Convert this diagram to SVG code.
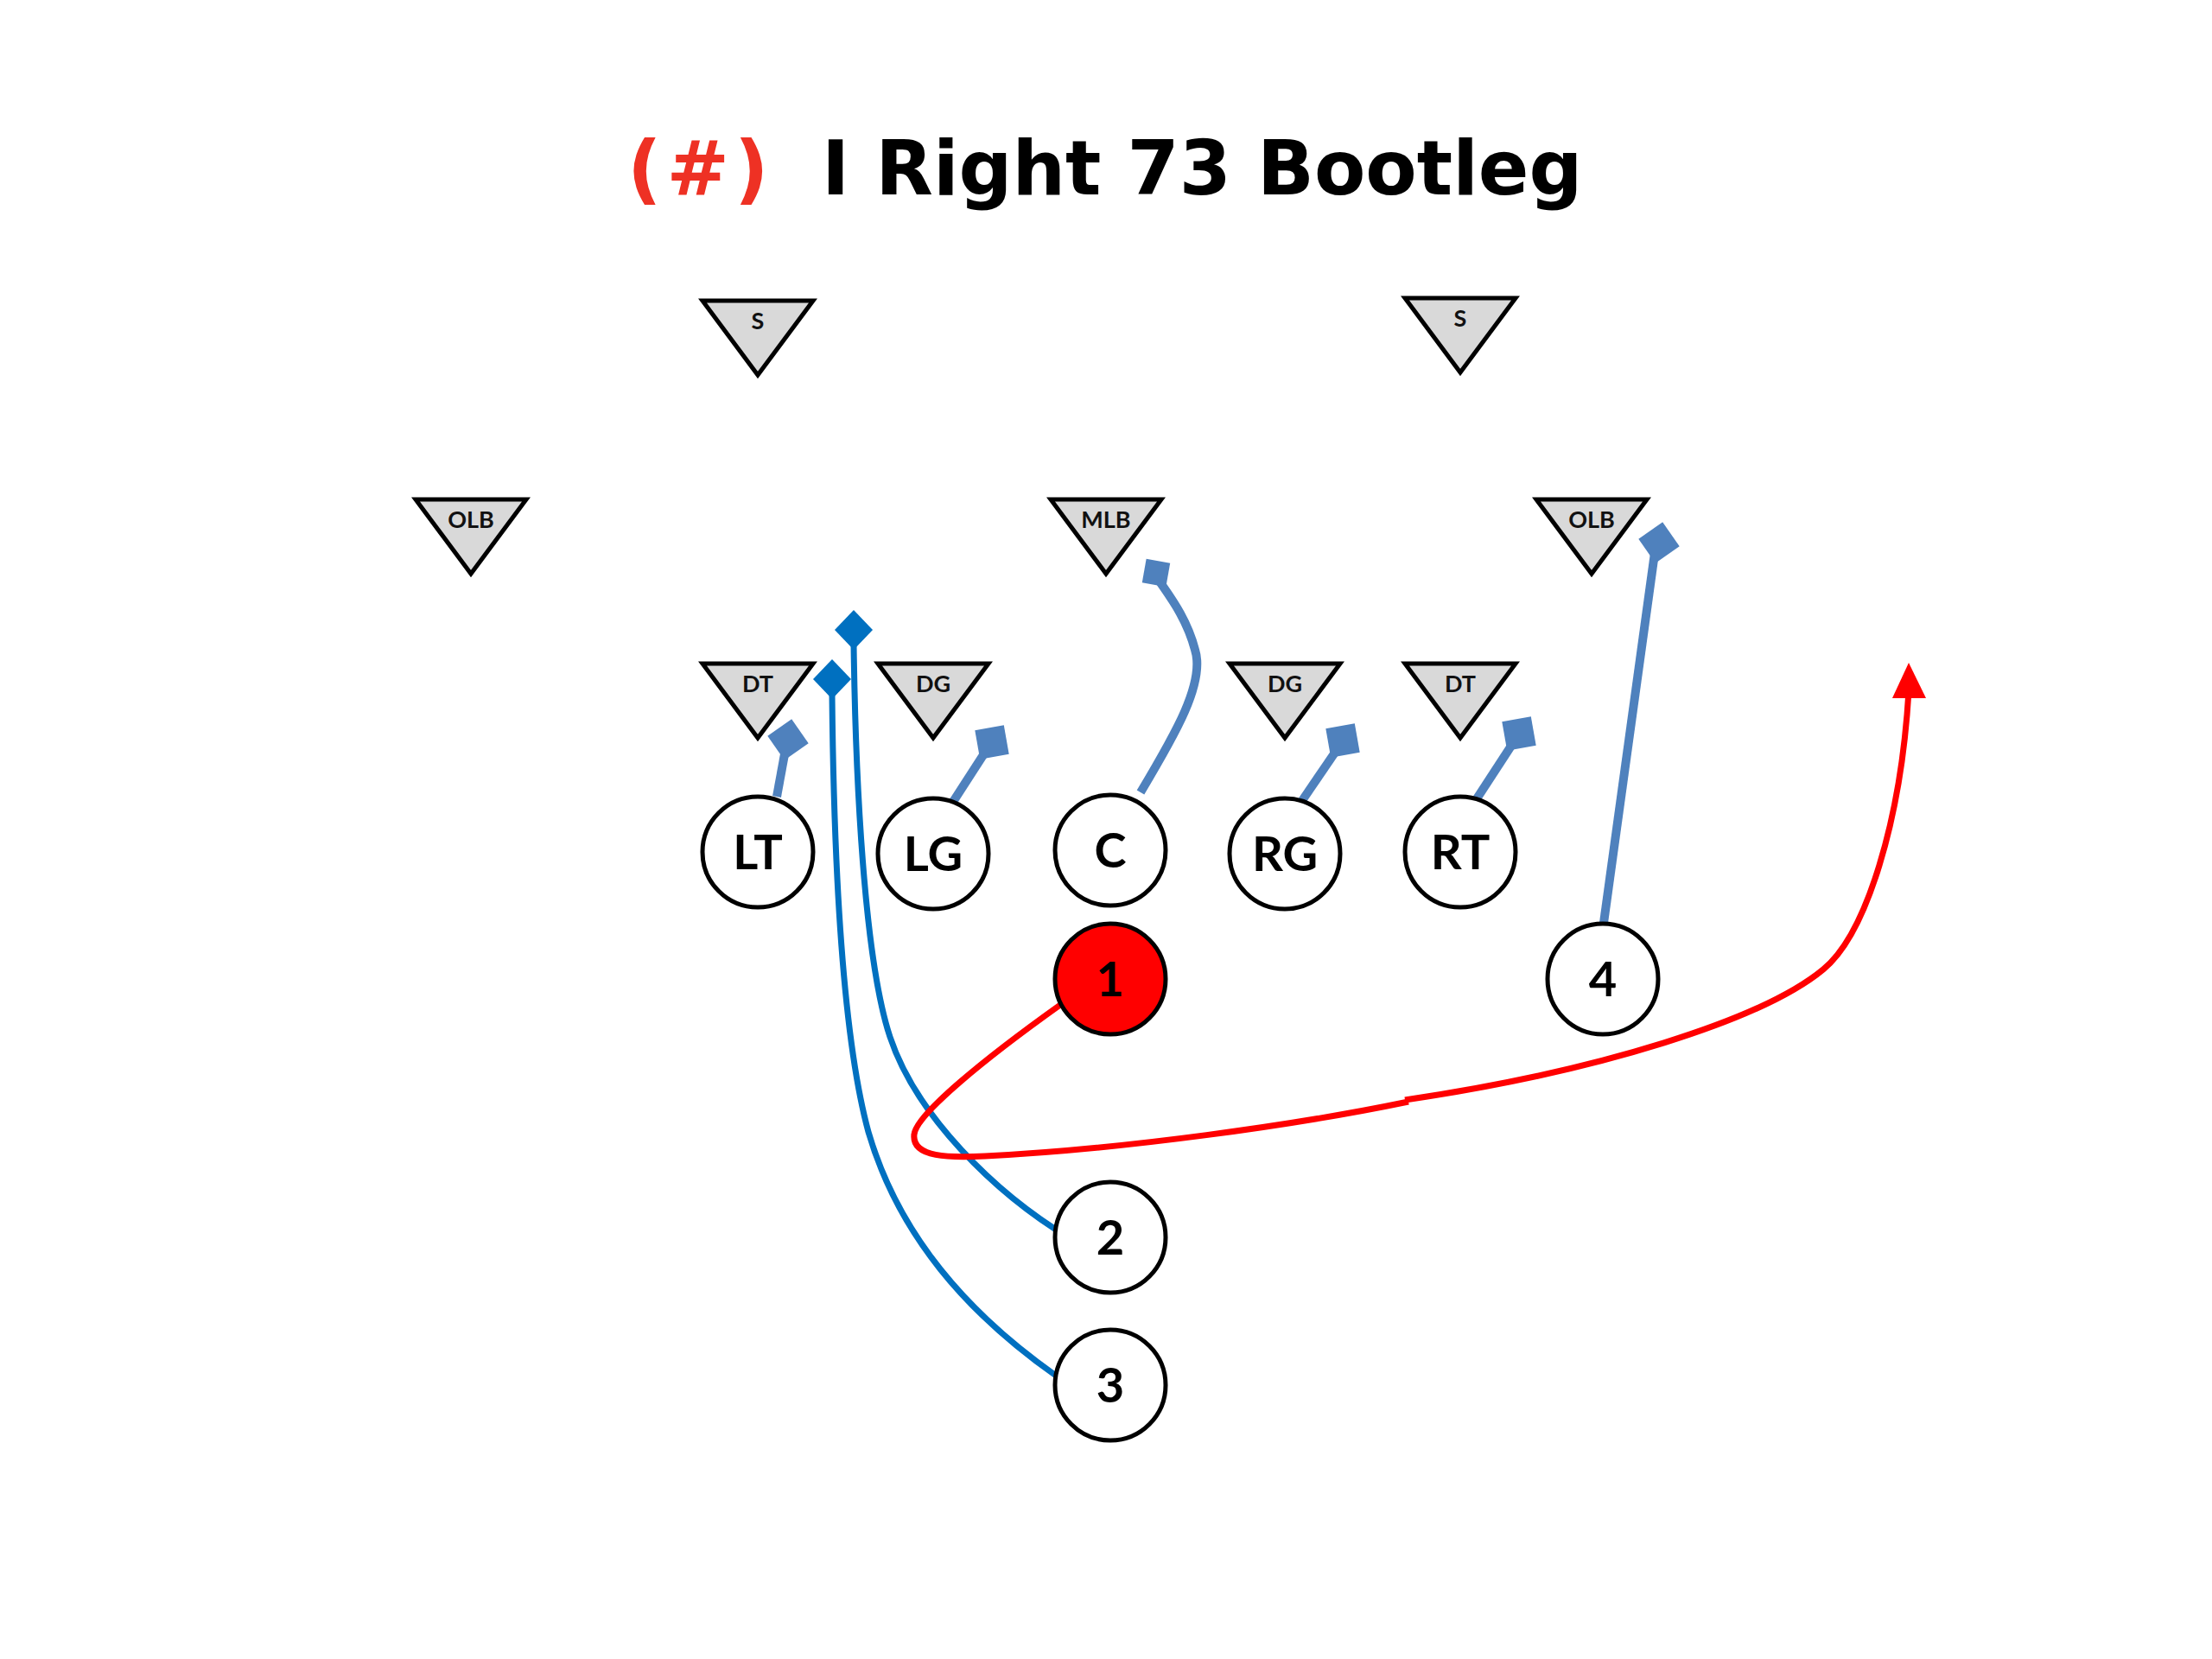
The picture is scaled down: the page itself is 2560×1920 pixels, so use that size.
<svg xmlns="http://www.w3.org/2000/svg" width="2560" height="1920" viewBox="0 0 2560 1920">
<style>
.tri{fill:#D9D9D9;stroke:#000;stroke-width:5;stroke-linejoin:miter}
.tl{font-family:Lato,"Open Sans","Liberation Sans",sans-serif;font-weight:700;font-size:27px;text-anchor:middle;fill:#111}
.pl{fill:#fff;stroke:#000;stroke-width:5}
.cl{font-family:Lato,"Open Sans","Liberation Sans",sans-serif;font-weight:700;font-size:56px;text-anchor:middle;fill:#000}
.blk{fill:none;stroke:#4F81BD;stroke-width:10}
.blkh{fill:#4F81BD}
.rt{fill:none;stroke:#0070C0;stroke-width:7}
.rth{fill:#0070C0}
.red{fill:none;stroke:#FF0000;stroke-width:7}
.title{font-family:"DejaVu Sans",Verdana,sans-serif;font-weight:700;font-size:86.5px}
</style>
<rect width="2560" height="1920" fill="#fff"/>
<g id="title">
<text class="title" x="726" y="225" fill="#EE3124" letter-spacing="6">(#)</text>
<text class="title" x="951" y="225" fill="#000">I Right 73 Bootleg</text>
</g>
<g id="connectors">
<!-- blocks -->
<line class="blk" x1="899" y1="922" x2="910" y2="862"/>
<rect class="blkh" x="-17" y="-17" width="34" height="34" transform="translate(912 856) rotate(-35)"/>
<line class="blk" x1="1101" y1="931" x2="1143" y2="866"/>
<rect class="blkh" x="-17" y="-17" width="34" height="34" transform="translate(1148 859) rotate(-10)"/>
<path class="blk" d="M1320 917 C1360 850 1395 790 1383 752 C1373 714 1352 688 1340 670"/>
<rect class="blkh" x="-14" y="-14" width="28" height="28" transform="translate(1338 663) rotate(10)"/>
<line class="blk" x1="1504" y1="931" x2="1549" y2="865"/>
<rect class="blkh" x="-17" y="-17" width="34" height="34" transform="translate(1554 857) rotate(-10)"/>
<line class="blk" x1="1708" y1="926" x2="1753" y2="857"/>
<rect class="blkh" x="-17" y="-17" width="34" height="34" transform="translate(1758 849) rotate(-10)"/>
<line class="blk" x1="1856" y1="1068" x2="1915" y2="640"/>
<rect class="blkh" x="-17" y="-17" width="34" height="34" transform="translate(1920 628) rotate(-35)"/>
<!-- routes 2 and 3 -->
<path class="rt" d="M1238 1433 C1150 1380 1060 1290 1030 1200 C1000 1110 990 900 988 745"/>
<polygon class="rth" points="988,706 1010,729 988,752 966,729"/>
<path class="rt" d="M1222 1592 C1120 1520 1040 1430 1005 1310 C975 1200 965 1000 963 805"/>
<polygon class="rth" points="963,763 985,786 963,809 941,786"/>
<!-- QB route -->
<path class="red" d="M1227 1163 C1140 1225 1060 1290 1058 1313 C1055 1340 1100 1340 1140 1338 C1300 1330 1500 1302 1630 1275"/>
<path class="red" d="M1626 1273 C1850 1240 2040 1180 2110 1122 C2160 1081 2200 950 2209 800"/>
<polygon fill="#FF0000" points="2209,767 2229,808 2190,808"/>
</g>
<g id="S-left"><polygon class="tri" points="813,348 941,348 877,434"/><text class="tl" x="877" y="381">S</text></g>
<g id="S-right"><polygon class="tri" points="1626,345 1754,345 1690,431"/><text class="tl" x="1690" y="378">S</text></g>
<g id="OLB-left"><polygon class="tri" points="481,578 609,578 545,664"/><text class="tl" x="545" y="611">OLB</text></g>
<g id="MLB"><polygon class="tri" points="1216,578 1344,578 1280,664"/><text class="tl" x="1280" y="611">MLB</text></g>
<g id="OLB-right"><polygon class="tri" points="1778,578 1906,578 1842,664"/><text class="tl" x="1842" y="611">OLB</text></g>
<g id="DT-left"><polygon class="tri" points="813,768 941,768 877,854"/><text class="tl" x="877" y="801">DT</text></g>
<g id="DG-left"><polygon class="tri" points="1016,768 1144,768 1080,854"/><text class="tl" x="1080" y="801">DG</text></g>
<g id="DG-right"><polygon class="tri" points="1423,768 1551,768 1487,854"/><text class="tl" x="1487" y="801">DG</text></g>
<g id="DT-right"><polygon class="tri" points="1626,768 1754,768 1690,854"/><text class="tl" x="1690" y="801">DT</text></g>
<g id="LT"><circle class="pl" cx="877" cy="986" r="64"/><text class="cl" x="877" y="1006">LT</text></g>
<g id="LG"><circle class="pl" cx="1080" cy="988" r="64"/><text class="cl" x="1080" y="1008">LG</text></g>
<g id="C"><circle class="pl" cx="1285" cy="984" r="64"/><text class="cl" x="1285" y="1004">C</text></g>
<g id="RG"><circle class="pl" cx="1487" cy="988" r="64"/><text class="cl" x="1487" y="1008">RG</text></g>
<g id="RT"><circle class="pl" cx="1690" cy="986" r="64"/><text class="cl" x="1690" y="1006">RT</text></g>
<g id="P1"><circle cx="1285" cy="1133" r="64" fill="#FF0000" stroke="#000" stroke-width="5"/><text class="cl" x="1285" y="1153">1</text></g>
<g id="P4"><circle class="pl" cx="1855" cy="1133" r="64"/><text class="cl" x="1855" y="1153">4</text></g>
<g id="P2"><circle class="pl" cx="1285" cy="1432" r="64"/><text class="cl" x="1285" y="1452">2</text></g>
<g id="P3"><circle class="pl" cx="1285" cy="1603" r="64"/><text class="cl" x="1285" y="1623">3</text></g>
</svg>
